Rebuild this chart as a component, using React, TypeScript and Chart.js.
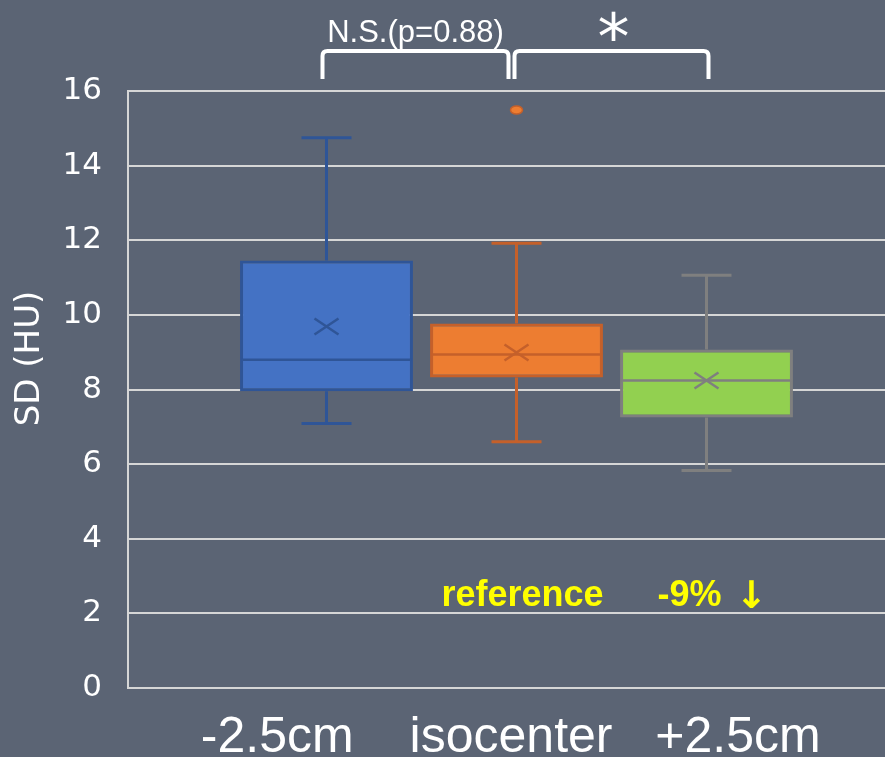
import { useEffect, useRef } from "react";
import { Chart, registerables } from "chart.js";

Chart.register(...registerables);

// Box-plot statistics per slice position (HU)
const groups = ["-2.5cm", "isocenter", "+2.5cm"];
const whiskerLow = [7.09, 6.6, 5.83];
const quartile1 = [7.95, 8.32, 7.25];
const medians = [8.8, 8.94, 8.24];
const quartile3 = [11.46, 9.77, 9.07];
const whiskerHigh = [14.75, 11.92, 11.06];
const means = [9.69, 8.99, 8.24];
const outliers: number[][] = [[], [15.49], []];

// Axis range
const yMin = 0;
const yMax = 16;
const yStep = 2;
const yTitle = "SD (HU)";

// Significance brackets between neighbouring boxes
const comparisonFrom = [0, 1];
const comparisonTo = [1, 2];
const comparisonText = ["N.S.(p=0.88)", "*"];

// Notes written under each box (text, trailing arrow)
const notes = ["", "reference", "-9%"];
const noteArrows = ["", "", "\u2193"];
const noteLevel = 2.2;

const fills = ["#4472C4", "#ED7D31", "#92D050"];
const strokes = ["#2F5597", "#C5602A", "#7F7F7F"];
const BG = "#5B6474";
const GRID = "#D6D6D6";

// horizontal placement of the group captions, as fractions of the plot width
const captionFractions = [0.192, 0.493, 0.785];

const boxPlotPlugin = {
  id: "boxPlot",
  beforeDraw(chart: any) {
    const ctx = chart.ctx;
    ctx.save();
    ctx.fillStyle = BG;
    ctx.fillRect(0, 0, chart.width, chart.height);
    ctx.restore();
  },
  afterDatasetsDraw(chart: any) {
    const ctx = chart.ctx;
    const y = chart.scales.y;
    ctx.save();
    groups.forEach((_, i) => {
      const bar = chart.getDatasetMeta(i).data[0];
      const { x, width } = bar.getProps(["x", "width"], true);
      const stroke = strokes[i];
      ctx.strokeStyle = stroke;
      ctx.lineCap = "butt";
      // whiskers
      ctx.lineWidth = 3;
      ctx.beginPath();
      ctx.moveTo(x, y.getPixelForValue(quartile3[i]));
      ctx.lineTo(x, y.getPixelForValue(whiskerHigh[i]));
      ctx.moveTo(x, y.getPixelForValue(quartile1[i]));
      ctx.lineTo(x, y.getPixelForValue(whiskerLow[i]));
      const capHalf = 25;
      ctx.moveTo(x - capHalf, y.getPixelForValue(whiskerHigh[i]));
      ctx.lineTo(x + capHalf, y.getPixelForValue(whiskerHigh[i]));
      ctx.moveTo(x - capHalf, y.getPixelForValue(whiskerLow[i]));
      ctx.lineTo(x + capHalf, y.getPixelForValue(whiskerLow[i]));
      ctx.stroke();
      // median
      ctx.lineWidth = 2.5;
      ctx.beginPath();
      const my = y.getPixelForValue(medians[i]);
      ctx.moveTo(x - width / 2 + 1, my);
      ctx.lineTo(x + width / 2 - 1, my);
      ctx.stroke();
      // mean marker
      const ay = y.getPixelForValue(means[i]);
      ctx.lineWidth = 2.5;
      ctx.beginPath();
      ctx.moveTo(x - 12, ay - 8);
      ctx.lineTo(x + 12, ay + 8);
      ctx.moveTo(x - 12, ay + 8);
      ctx.lineTo(x + 12, ay - 8);
      ctx.stroke();
      // outliers
      outliers[i].forEach((v) => {
        ctx.beginPath();
        ctx.ellipse(x, y.getPixelForValue(v), 6, 4, 0, 0, Math.PI * 2);
        ctx.fillStyle = fills[i];
        ctx.fill();
        ctx.lineWidth = 1.5;
        ctx.stroke();
      });
    });
    ctx.restore();
  },
  afterDraw(chart: any) {
    const ctx = chart.ctx;
    const area = chart.chartArea;
    const y = chart.scales.y;
    const centers = groups.map((_, i) => chart.getDatasetMeta(i).data[0].x);
    ctx.save();

    // y-axis title
    ctx.save();
    ctx.translate(30, area.top + (area.bottom - area.top) * 0.448);
    ctx.rotate(-Math.PI / 2);
    ctx.fillStyle = "#FFFFFF";
    ctx.font = "34px 'DejaVu Sans'";
    ctx.textAlign = "center";
    ctx.textBaseline = "middle";
    ctx.fillText(yTitle, 0, 0);
    ctx.restore();

    // significance brackets
    const top = area.top - 40;
    const bottom = area.top - 12;
    const r = 5;
    const insetLeft = [-4, -2];
    const insetRight = [-8, 2];
    comparisonFrom.forEach((from, k) => {
      const xl = centers[from] + insetLeft[k];
      const xr = centers[comparisonTo[k]] + insetRight[k];
      ctx.strokeStyle = "#FFFFFF";
      ctx.lineWidth = 4;
      ctx.beginPath();
      ctx.moveTo(xl, bottom);
      ctx.lineTo(xl, top + r);
      ctx.quadraticCurveTo(xl, top, xl + r, top);
      ctx.lineTo(xr - r, top);
      ctx.quadraticCurveTo(xr, top, xr, top + r);
      ctx.lineTo(xr, bottom);
      ctx.stroke();
      ctx.fillStyle = "#FFFFFF";
      ctx.textAlign = "center";
      ctx.textBaseline = "alphabetic";
      const text = comparisonText[k];
      if (text === "*") {
        ctx.font = "64px 'DejaVu Sans'";
        ctx.fillText(text, (xl + xr) / 2 + 2, top + 8);
      } else {
        ctx.font = "31px 'Liberation Sans'";
        ctx.fillText(text, (xl + xr) / 2, top - 9);
      }
    });

    // notes under the boxes
    ctx.fillStyle = "#FFFF00";
    ctx.textBaseline = "alphabetic";
    ctx.textAlign = "left";
    notes.forEach((t, i) => {
      if (!t) return;
      const baseFont = "bold 36px 'Liberation Sans'";
      const arrowFont = "bold 38px 'DejaVu Sans'";
      const gap = noteArrows[i] ? 14 : 0;
      ctx.font = baseFont;
      const w1 = ctx.measureText(t).width;
      ctx.font = arrowFont;
      const w2 = noteArrows[i] ? ctx.measureText(noteArrows[i]).width : 0;
      const total = w1 + gap + w2;
      const start = centers[i] + 6 - total / 2;
      const by = y.getPixelForValue(noteLevel);
      ctx.font = baseFont;
      ctx.fillText(t, start, by);
      if (noteArrows[i]) {
        ctx.font = arrowFont;
        ctx.fillText(noteArrows[i], start + w1 + gap, by + 2);
      }
    });

    // group captions
    ctx.fillStyle = "#FFFFFF";
    ctx.textAlign = "center";
    ctx.font = "50px 'Liberation Sans'";
    groups.forEach((g, i) => {
      const cx = area.left + (area.right - area.left) * captionFractions[i];
      ctx.fillText(g, cx, chart.height - 5);
    });
    ctx.restore();
  },
};

export default function App() {
  const ref = useRef<HTMLCanvasElement | null>(null);

  useEffect(() => {
    document.body.style.background = BG;
    const canvas = ref.current;
    if (!canvas) return;
    const yTickValues: number[] = [];
    for (let v = yMin; v <= yMax; v += yStep) yTickValues.push(v);

    const chart = new Chart(canvas, {
      type: "bar",
      data: {
        labels: ["SD"],
        datasets: groups.map((g, i) => ({
          label: g,
          data: [[quartile1[i], quartile3[i]]] as any,
          backgroundColor: fills[i],
          borderColor: strokes[i],
          borderWidth: 3,
          borderSkipped: false,
        })),
      },
      options: {
        responsive: false,
        animation: false,
        devicePixelRatio: 1,
        layout: { padding: { top: 91, right: 0, bottom: 69, left: 0 } },
        datasets: {
          bar: { categoryPercentage: 0.7336, barPercentage: 0.91 },
        },
        plugins: {
          legend: { display: false },
          tooltip: { enabled: false },
        },
        scales: {
          x: { display: false },
          y: {
            min: yMin,
            max: yMax,
            afterBuildTicks: (scale: any) => {
              scale.ticks = yTickValues.map((v) => ({ value: v }));
            },
            afterFit: (scale: any) => {
              scale.width = 128;
            },
            ticks: {
              color: "#FFFFFF",
              font: { family: "'DejaVu Sans'", size: 31 },
              padding: 26,
            },
            grid: { color: GRID, lineWidth: 2, drawTicks: false },
            border: { color: GRID, width: 2 },
            title: { display: false },
          },
        },
      },
      plugins: [boxPlotPlugin],
    });
    return () => chart.destroy();
  }, []);

  return (
    <div style={{ position: "fixed", left: 0, top: 0, width: 905, height: 757, background: BG }}>
      <canvas ref={ref} width={905} height={757} style={{ display: "block" }} />
    </div>
  );
}
